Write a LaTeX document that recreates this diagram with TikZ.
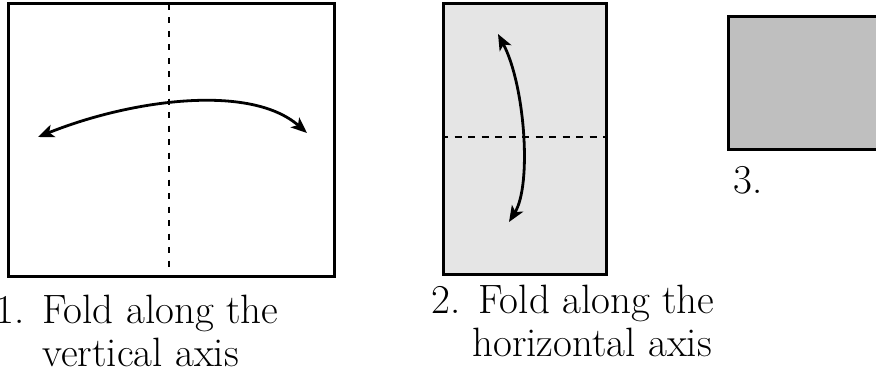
\documentclass[tikz,border=0pt]{standalone}
\usetikzlibrary{arrows.meta}
\begin{document}
\begin{tikzpicture}[x=0.5pt,y=-0.5pt,
  sheet/.style={draw=black, line width=1.5pt, inner sep=0pt, outer sep=0pt},
  foldv/.style={line width=1pt, dash pattern=on 3pt off 3.75pt},
  foldh/.style={line width=1.25pt, dash pattern=on 3.5pt off 3.25pt, dash phase=1pt},
  move/.style={line width=1.4pt, {Stealth[length=8pt,width=6.5pt,inset=2pt]}-{Stealth[length=8pt,width=6.5pt,inset=2pt]}},
  lbl/.style={inner sep=0pt, anchor=base west, font=\fontsize{20.5}{21.5}\selectfont}]
\clip (0,0) rectangle (876,369);
% step 1
\node[sheet, fill=white, minimum width=163pt, minimum height=136pt] (s1) at (171,140) {};
\draw[foldv] ([xshift=-1pt]s1.north) -- ([xshift=-1pt,yshift=4.5pt]s1.south);
\coordinate (l1) at (38,137);
\coordinate (r1) at (307,133);
\draw[move] (l1) .. controls (130,100) and (250,83) .. (r1);
\node[lbl] (c1) at (42,323) {\begin{tabular}[t]{@{}l@{}}\llap{1.\hspace{9pt}}Fold along the\\vertical axis\end{tabular}};
% step 2
\node[sheet, fill=black!10, minimum width=81.5pt, minimum height=135pt] (s2) at (524.5,139) {};
\draw[foldh] ([yshift=1pt]s2.west) -- ([yshift=1pt]s2.east);
\coordinate (t2) at (498,34);
\coordinate (b2) at (509,222);
\draw[move] (t2) .. controls (525,85) and (532,185) .. (b2);
\node[lbl] (c2) at (478,313) {\begin{tabular}[t]{@{}l@{}}\llap{2.\hspace{9pt}}Fold along the\\\hspace{-3pt}horizontal axis\end{tabular}};
% step 3
\node[sheet, fill=black!25, minimum width=81.5pt, minimum height=66pt] (s3) at (809.5,83) {};
\node[lbl] (c3) at (733,193) {3.};
\end{tikzpicture}
\end{document}
